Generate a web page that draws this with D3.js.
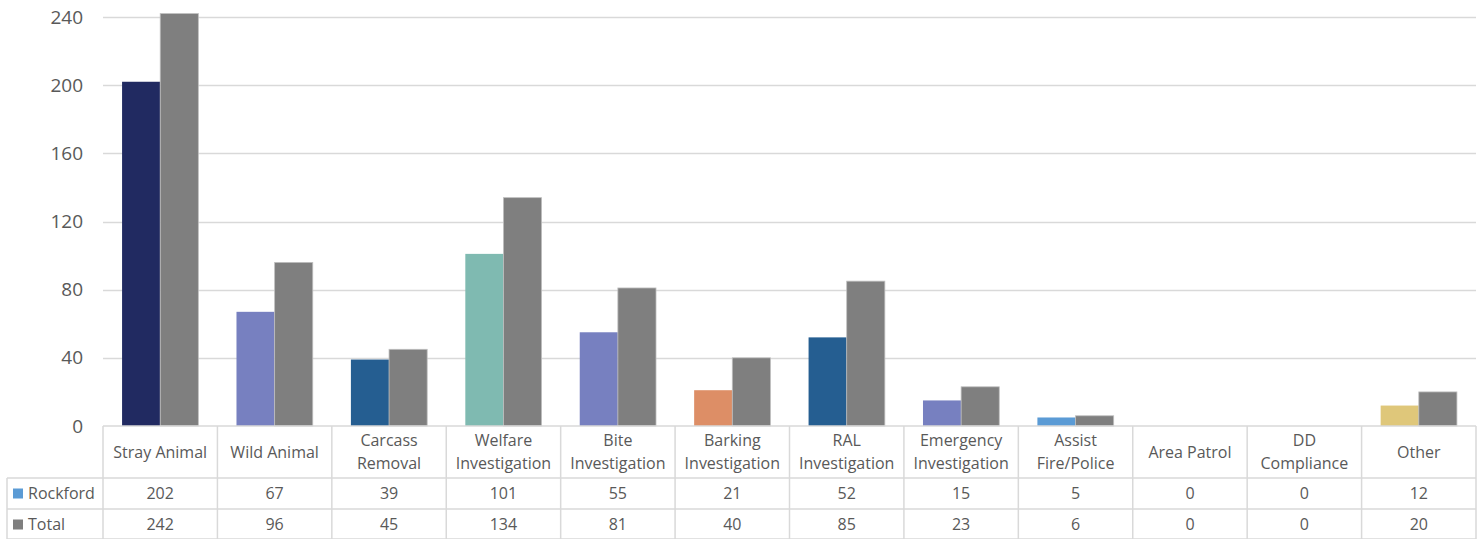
<!DOCTYPE html>
<html><head><meta charset="utf-8">
<script src="https://cdn.jsdelivr.net/npm/d3@7"></script>
<style>body{margin:0;background:#fff;}svg{display:block;}</style>
</head><body>
<svg id="chart" width="1483" height="539"></svg>
<script>
const categories = [["Stray Animal"],["Wild Animal"],["Carcass","Removal"],["Welfare","Investigation"],["Bite","Investigation"],["Barking","Investigation"],["RAL","Investigation"],["Emergency","Investigation"],["Assist","Fire/Police"],["Area Patrol"],["DD","Compliance"],["Other"]];
const rockford = [202,67,39,101,55,21,52,15,5,0,0,12];
const total = [242,96,45,134,81,40,85,23,6,0,0,20];
const rockfordColors = ["#212a61","#7780c0","#255e91","#7fbab1","#7780c0","#dd8e66","#255e91","#7780c0","#5b9bd5","#7780c0","#7780c0","#dfc77a"];
const seriesNames = ["Rockford","Total"];
const legendColors = ["#5b9bd5","#7f7f7f"];
const yTicks = [0,40,80,120,160,200,240];

(function(){
const svg = d3.select("#chart");
const pLeft = 103, pRight = 1476, pTop = 17, base = 426;
const keys = categories.map((c,i)=>i);
const x = d3.scaleBand().domain(keys).range([pLeft,pRight]).padding(0);
const xi = d3.scaleBand().domain(seriesNames).range([0,x.bandwidth()]).paddingInner(0).paddingOuter(0.5);
const y = d3.scaleLinear().domain([0,240]).range([base,pTop]);
const font = "'Open Sans', sans-serif";
const txt = "#595959", grid = "#d9d9d9";

svg.append("g").selectAll("line").data(yTicks.filter(t=>t>0)).join("line")
  .attr("x1",pLeft).attr("x2",pRight).attr("y1",d=>Math.round(y(d))+0.5).attr("y2",d=>Math.round(y(d))+0.5)
  .attr("stroke",grid).attr("stroke-width",1.5);

const yAxis = d3.axisLeft(y).tickValues(yTicks).tickSize(0).tickPadding(20);
const ya = svg.append("g").attr("transform",`translate(${pLeft},0)`).call(yAxis);
ya.select(".domain").remove();
ya.selectAll("text").attr("font-family",font).attr("font-size",19).attr("fill",txt);

const g = svg.append("g");
g.selectAll("rect.r").data(rockford).join("rect").attr("class","r")
  .attr("x",(d,i)=>x(i)+xi("Rockford")).attr("width",xi.bandwidth())
  .attr("y",d=>y(d)).attr("height",d=>base-y(d)).attr("fill",(d,i)=>rockfordColors[i]);
g.selectAll("rect.t").data(total).join("rect").attr("class","t")
  .attr("x",(d,i)=>x(i)+xi("Total")).attr("width",xi.bandwidth())
  .attr("y",d=>y(d)).attr("height",d=>base-y(d)).attr("fill","#7f7f7f")
  .attr("stroke",d=>d>0?"#bfbfbf":"none").attr("stroke-width",0.8);

const rowY = [base, 478, 509, 540];
const tableLeft = 7;
const tg = svg.append("g").attr("stroke",grid).attr("stroke-width",1.5);
tg.append("line").attr("x1",pLeft).attr("x2",pRight).attr("y1",base).attr("y2",base);
tg.append("line").attr("x1",tableLeft).attr("x2",pRight).attr("y1",rowY[1]).attr("y2",rowY[1]);
tg.append("line").attr("x1",tableLeft).attr("x2",pRight).attr("y1",rowY[2]).attr("y2",rowY[2]);
tg.append("line").attr("x1",tableLeft).attr("x2",pRight).attr("y1",rowY[3]-1).attr("y2",rowY[3]-1);
tg.append("line").attr("x1",tableLeft).attr("x2",tableLeft).attr("y1",rowY[1]).attr("y2",rowY[3]);
tg.selectAll("line.v").data(keys.concat([keys.length])).join("line").attr("class","v")
  .attr("x1",d=>d<keys.length?x(d):pRight).attr("x2",d=>d<keys.length?x(d):pRight)
  .attr("y1",base).attr("y2",rowY[3]);

const hg = svg.append("g").attr("font-family",font).attr("font-size",16).attr("fill",txt).attr("text-anchor","middle");
categories.forEach((lines,i)=>{
  const cx = x(i)+x.bandwidth()/2;
  const cy = (rowY[0]+rowY[1])/2;
  const t = hg.append("text").attr("x",cx);
  lines.forEach((ln,j)=>{
    t.append("tspan").attr("x",cx).attr("y",cy + (j-(lines.length-1)/2)*23).attr("dy","0.35em").text(ln);
  });
});
[rockford,total].forEach((arr,r)=>{
  const cy = (rowY[r+1]+rowY[r+2])/2;
  hg.append("g").selectAll("text").data(arr).join("text").attr("x",(d,i)=>x(i)+x.bandwidth()/2).attr("y",cy).attr("dy","0.35em").text(d=>d);
  svg.append("rect").attr("x",13).attr("y",cy-5).attr("width",10).attr("height",10).attr("fill",legendColors[r]);
  svg.append("text").attr("x",28).attr("y",cy).attr("dy","0.35em").attr("font-family",font).attr("font-size",16).attr("fill",txt).text(seriesNames[r]);
});
})();
</script>
</body></html>
